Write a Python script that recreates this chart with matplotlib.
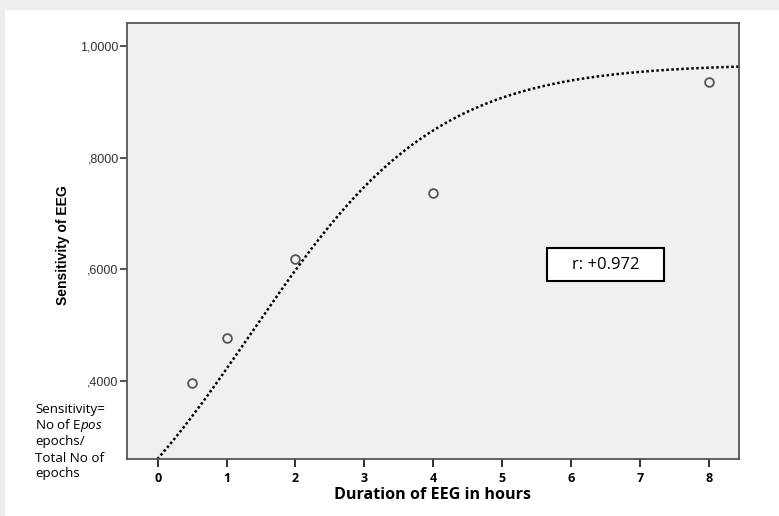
import numpy as np
import matplotlib
matplotlib.use("Agg")
import matplotlib.pyplot as plt
from matplotlib.patches import Rectangle

plt.rcParams["mathtext.fontset"] = "custom"
plt.rcParams["mathtext.rm"] = "Open Sans"
plt.rcParams["mathtext.it"] = "Open Sans:italic"

# Observed sensitivity by recording duration
hours = [0.5, 1.0, 2.0, 4.0, 8.0]
sensitivity = [0.397, 0.476, 0.6175, 0.736, 0.936]

# Fitted growth curve (logistic): plateau, rate, midpoint
fit_plateau = 0.968
fit_rate = 0.74
fit_mid = 1.35

y_ticks = [0.4, 0.6, 0.8, 1.0]
y_tick_labels = [",4000", ",6000", ",8000", "1,0000"]
x_ticks = [0, 1, 2, 3, 4, 5, 6, 7, 8]

W, H = 779, 516
fig = plt.figure(figsize=(W / 100, H / 100), dpi=100, facecolor="white")

# light frame strips along the top and left edges
fig.patches.append(Rectangle((0, 1 - 10 / H), 1, 10 / H, transform=fig.transFigure,
                             facecolor="#eeeeee", edgecolor="none", zorder=0))
fig.patches.append(Rectangle((0, 0), 5 / W, 1, transform=fig.transFigure,
                             facecolor="#eeeeee", edgecolor="none", zorder=0))

ax = fig.add_axes([127 / W, 1 - 459 / H, (739 - 127) / W, (459 - 23) / H])
ax.set_facecolor("#f0f0f0")
ax.set_xlim(-0.446, 8.44)
ax.set_ylim(0.260, 1.041)

for s in ax.spines.values():
    s.set_color("#555555")
    s.set_linewidth(1.3)

xs = np.linspace(-0.2, 8.44, 400)
curve = fit_plateau / (1 + np.exp(-fit_rate * (xs - fit_mid)))
ax.plot(xs, curve, color="black", linestyle=(0, (1, 1)), linewidth=1.8, zorder=2)

ax.plot(hours, sensitivity, linestyle="none", marker="o", markersize=6.3,
        markerfacecolor="none", markeredgecolor="#555555", markeredgewidth=1.3, zorder=3)

ax.set_yticks(y_ticks)
ax.set_yticklabels(y_tick_labels, fontname="Liberation Sans", fontsize=9, color="#333333")
ax.set_xticks(x_ticks)
ax.set_xticklabels([str(v) for v in x_ticks], fontname="Open Sans",
                   fontsize=9, fontweight="bold", color="black")
ax.tick_params(axis="y", length=5, width=1.3, color="#444444", pad=1)
ax.tick_params(axis="x", length=6, width=1.3, color="#222222", pad=3)

fig.text(433 / W, 1 - 495 / H, "Duration of EEG in hours", fontname="Open Sans",
         fontweight="bold", fontsize=11.6, ha="center", va="center")
fig.text(63 / W, 1 - 245 / H, "Sensitivity of EEG", fontname="Liberation Sans",
         fontweight="bold", fontsize=10, rotation=90, ha="center", va="center")

note_lines = ["Sensitivity=", r"No of E$\it{pos}$", "epochs/", "Total No of", "epochs"]
note_y = [410, 426, 442, 458, 474]
for line, yy in zip(note_lines, note_y):
    fig.text(35 / W, 1 - yy / H, line, fontname="Open Sans", fontsize=9.6,
             ha="left", va="center")

# correlation box
ax.add_patch(Rectangle((0.6863, 0.4083), 0.8775 - 0.6863, 0.4839 - 0.4083,
                       transform=ax.transAxes, facecolor="white", edgecolor="black",
                       linewidth=1.5, zorder=4))
ax.text(0.782, 0.446, "r: +0.972", transform=ax.transAxes, fontname="Open Sans",
        fontsize=12, ha="center", va="center", zorder=5)

fig.savefig("out.png", dpi=100, facecolor=fig.get_facecolor())
